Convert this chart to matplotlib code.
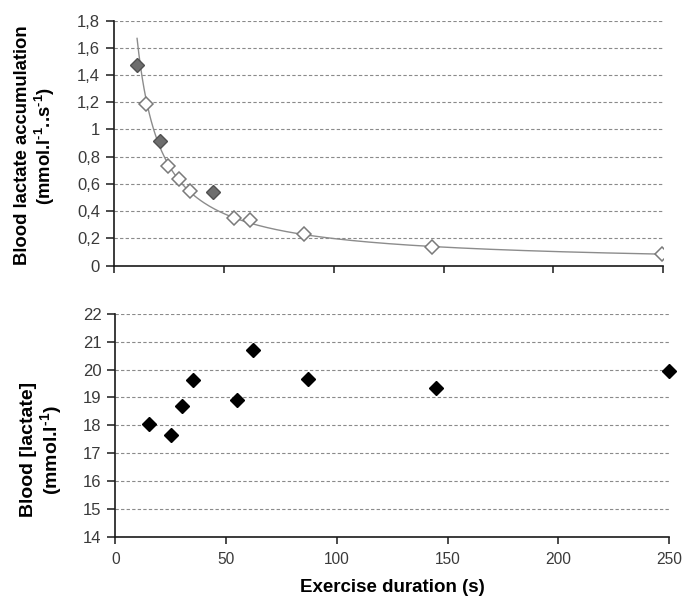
import numpy as np
import matplotlib
matplotlib.use("Agg")
import matplotlib.pyplot as plt
from matplotlib.ticker import FuncFormatter, MultipleLocator

plt.rcParams['font.family'] = ['Liberation Sans', 'DejaVu Sans']
plt.rcParams['mathtext.fontset'] = 'custom'
plt.rcParams['mathtext.rm'] = 'Liberation Sans:bold'
plt.rcParams['mathtext.default'] = 'rm'

# Top panel: accumulation rate vs exercise duration
x_open = [14.7, 24.7, 29.5, 34.7, 54.5, 61.7, 86.4, 144.5, 249.5]
y_open = [1.186, 0.728, 0.637, 0.549, 0.348, 0.331, 0.230, 0.135, 0.083]
x_filled = [10.5, 21.1, 45.0]
y_filled = [1.475, 0.917, 0.539]

# Bottom panel: blood lactate concentration
x_lac = [15.1, 25.0, 30.1, 35.1, 55.0, 62.1, 87.1, 144.8, 250.0]
y_lac = [18.06, 17.64, 18.68, 19.63, 18.91, 20.71, 19.65, 19.34, 19.96]

# power trendline (Excel style) fitted on open points
b, ln_a = np.polyfit(np.log(x_open), np.log(y_open), 1)
x_fit = np.linspace(10.5, 250, 300)
y_fit = np.exp(ln_a) * x_fit ** b

tick_col = '#3a3a3a'
grid_kw = dict(color='#8a8a8a', linestyle=(0, (3, 2)), linewidth=0.8)

fig = plt.figure(figsize=(6.83, 6.03), dpi=100)

def comma(v, pos):
    s = '%g' % round(v, 2)
    return s.replace('.', ',')

def style(ax):
    ax.spines['top'].set_visible(False)
    ax.spines['right'].set_visible(False)
    for s in ('left', 'bottom'):
        ax.spines[s].set_color('#1a1a1a')
        ax.spines[s].set_linewidth(1.2)
    ax.tick_params(axis='both', direction='out', color='#1a1a1a', width=1.1,
                   labelcolor=tick_col, labelsize=12)
    ax.tick_params(axis='y', length=6, pad=4)
    ax.tick_params(axis='x', length=5, pad=6, labelsize=11.2)
    ax.yaxis.grid(True, **grid_kw)
    ax.set_axisbelow(True)

# ---------------- top ----------------
ax1 = fig.add_axes([0.1669, 0.5597, 0.8043, 0.406])
ax1.plot(x_fit, y_fit, color='#8c8c8c', lw=1.0, zorder=2)
ax1.plot(x_open, y_open, 'D', ms=7, mfc='white', mec='#7a7a7a', mew=1.1, zorder=3)
ax1.plot(x_filled, y_filled, 'D', ms=7, mfc='#6e6e6e', mec='#505050', mew=1.0, zorder=3)
ax1.set_xlim(0, 250)
ax1.set_ylim(0, 1.8)
ax1.yaxis.set_major_locator(MultipleLocator(0.2))
ax1.yaxis.set_major_formatter(FuncFormatter(comma))
ax1.xaxis.set_major_locator(MultipleLocator(50))
ax1.set_xticklabels([])
style(ax1)
ax1.set_ylabel('Blood lactate accumulation\n(mmol.l$^{\\text{-1}}$..s$^{\\text{-1}}$)',
               fontsize=13.3, fontweight='bold', linespacing=1.1)
ax1.yaxis.set_label_coords(-0.104, 0.49)

# ---------------- bottom ----------------
ax2 = fig.add_axes([0.1688, 0.11, 0.8107, 0.3693])
ax2.plot(x_lac, y_lac, 'D', ms=7, mfc='black', mec='black', zorder=3, clip_on=False)
ax2.set_xlim(0, 250)
ax2.set_ylim(14, 22)
ax2.yaxis.set_major_locator(MultipleLocator(1))
ax2.xaxis.set_major_locator(MultipleLocator(50))
style(ax2)
ax2.set_ylabel('Blood [lactate]\n(mmol.l$^{\\text{-1}}$)',
               fontsize=14, fontweight='bold', linespacing=1.1)
ax2.yaxis.set_label_coords(-0.092, 0.39)
ax2.set_xlabel('Exercise duration (s)', fontsize=13.5, fontweight='bold', labelpad=9)

fig.savefig('out.png', dpi=100)
